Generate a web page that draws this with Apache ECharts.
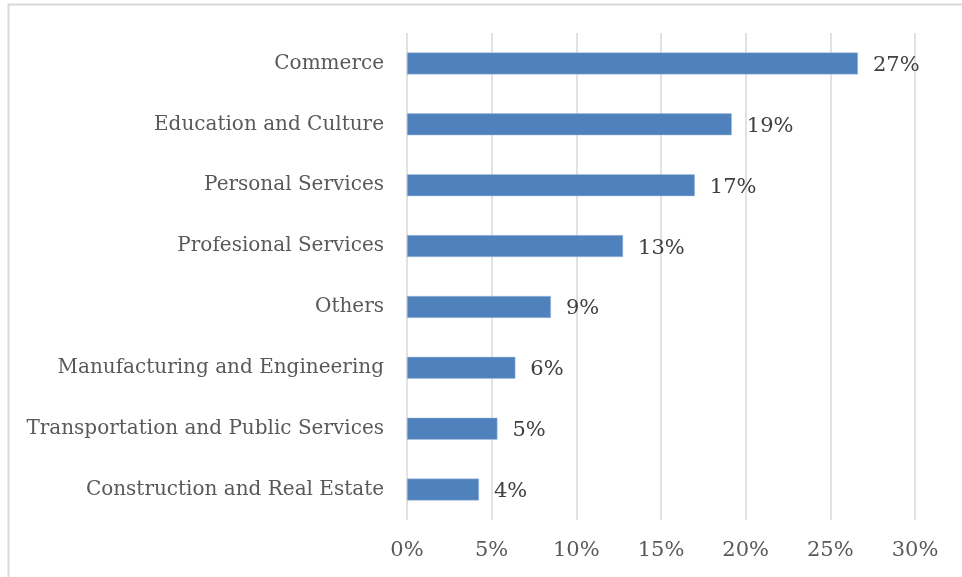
<!DOCTYPE html>
<html>
<head>
<meta charset="utf-8">
<script src="https://cdn.jsdelivr.net/npm/echarts@6/dist/echarts.min.js"></script>
<style>
  html, body { margin: 0; padding: 0; background: #fff; }
  #chart { width: 962px; height: 577px; }
</style>
</head>
<body>
<div id="chart"></div>
<script>
// Sectors, listed bottom to top as the category axis draws them
const sectors = [
  'Construction and Real Estate',
  'Transportation and Public Services',
  'Manufacturing and Engineering',
  'Others',
  'Profesional Services',
  'Personal Services',
  'Education and Culture',
  'Commerce'
];
// Share of each sector, in percent
const shares = [4.25, 5.34, 6.4, 8.5, 12.76, 17.0, 19.18, 26.63];
// Value axis ticks (percent)
const axisTicks = [0, 5, 10, 15, 20, 25, 30];

const FONT = 'DejaVu Serif';
const chart = echarts.init(document.getElementById('chart'));

chart.setOption({
  animation: false,
  backgroundColor: '#ffffff',
  graphic: [{
    type: 'rect',
    shape: { x: 8.5, y: 4.5, width: 1000, height: 700 },
    style: { fill: 'none', stroke: '#d9d9d9', lineWidth: 2 },
    silent: true
  }],
  grid: { left: 407, right: 47, top: 33, bottom: 57, containLabel: false },
  xAxis: {
    type: 'value',
    min: axisTicks[0],
    max: axisTicks[axisTicks.length - 1],
    interval: axisTicks[1] - axisTicks[0],
    axisLine: { show: false },
    axisTick: { show: false },
    splitLine: { show: true, lineStyle: { color: '#d9d9d9', width: 1.5 } },
    axisLabel: {
      margin: 20,
      color: '#595959',
      fontFamily: FONT,
      fontSize: 21,
      formatter: v => v + '%'
    }
  },
  yAxis: {
    type: 'category',
    data: sectors,
    axisLine: { show: false },
    axisTick: { show: false },
    axisLabel: {
      margin: 23,
      color: '#595959',
      fontFamily: FONT,
      fontSize: 20
    }
  },
  series: [{
    type: 'bar',
    data: shares,
    barCategoryGap: '64%',
    itemStyle: { color: '#4f81bd', borderColor: '#a9c1e0', borderWidth: 0.5 },
    label: {
      show: true,
      position: 'right',
      distance: 15,
      color: '#404040',
      fontFamily: FONT,
      fontSize: 21,
      offset: [0, 2],
      formatter: p => Math.round(p.value) + '%'
    }
  }]
});
</script>
</body>
</html>
